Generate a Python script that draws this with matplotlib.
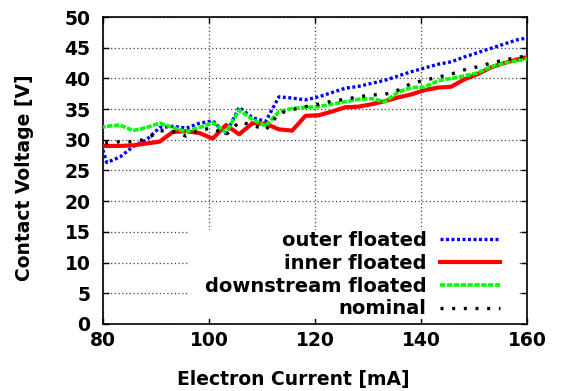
import matplotlib
matplotlib.use('Agg')
import matplotlib.pyplot as plt
from matplotlib.patches import Rectangle
import numpy as np

plt.rcParams['font.family'] = 'DejaVu Sans'
plt.rcParams['font.weight'] = 'bold'
plt.rcParams['axes.labelweight'] = 'bold'
FONTSIZE = 13.5
LEGEND_FONTSIZE = 14

# electron current [mA]; the data run a little past both axis limits
current = [78.2, 80.7, 83.2, 85.7, 88.2, 90.7, 93.2, 95.7, 98.2, 100.7,
           103.2, 105.7, 108.2, 110.7, 113.2, 115.7, 118.2, 120.7, 123.2, 125.7,
           128.2, 130.7, 133.2, 135.7, 138.2, 140.7, 143.2, 145.7, 148.2, 150.7,
           153.2, 155.7, 158.2, 160.7]

# contact voltage [V]
outer_floated = [33.5, 26.3, 27.2, 28.9, 30.0, 32.0, 32.2, 31.9, 32.7, 33.1,
                 31.0, 35.3, 33.6, 33.0, 37.0, 36.8, 36.5, 37.0, 37.7, 38.4,
                 38.7, 39.2, 39.7, 40.4, 41.1, 41.7, 42.3, 42.7, 43.5, 44.2,
                 44.9, 45.6, 46.3, 46.7]
inner_floated = [28.9, 29.0, 29.0, 29.1, 29.4, 29.7, 31.3, 31.4, 31.1, 30.2,
                 32.4, 30.9, 32.7, 32.6, 31.7, 31.5, 33.9, 34.0, 34.6, 35.3,
                 35.4, 35.8, 36.3, 36.9, 37.4, 38.1, 38.5, 38.65, 39.85, 40.7,
                 41.8, 42.5, 43.1, 43.6]
downstream_floated = [31.8, 32.2, 32.4, 31.5, 32.0, 32.7, 32.0, 31.3, 32.0, 32.8,
                      31.2, 34.85, 33.3, 32.25, 34.6, 35.1, 35.3, 35.4, 35.8, 36.2,
                      36.6, 36.7, 36.2, 37.8, 38.5, 38.6, 39.6, 40.0, 40.4, 40.9,
                      41.9, 42.5, 42.9, 43.3]
nominal = [29.4, 29.5, 29.7, 29.7, 30.1, 31.5, 31.3, 30.6, 31.6, 31.9,
           30.8, 32.9, 32.4, 31.6, 34.3, 34.9, 35.4, 35.8, 36.3, 36.6,
           37.0, 37.3, 37.4, 38.1, 39.2, 39.7, 40.2, 40.7, 41.4, 41.9,
           42.5, 43.0, 43.4, 43.8]

fig = plt.figure(figsize=(5.61, 3.91), dpi=100)
ax = fig.add_axes([0.1836, 0.1714, 0.7558, 0.7851])
ax.set_axisbelow(True)

ax.plot(current, outer_floated, color='#0000ff', lw=2.4, ls=(0, (0.9, 0.75)),
        label='outer floated', zorder=3)
ax.plot(current, inner_floated, color='#ff0000', lw=3, ls='-',
        label='inner floated', zorder=3)
ax.plot(current, downstream_floated, color='#00ff00', lw=2.6, ls=(0, (1.5, 0.4)),
        label='downstream floated', zorder=3)
ax.plot(current, nominal, color='black', lw=2.4, ls=(0, (0.9, 2.6)),
        label='nominal', zorder=3)

ax.set_xlim(80, 160)
ax.set_ylim(0, 50)
ax.set_xticks(np.arange(80, 161, 20))
ax.set_yticks(np.arange(0, 51, 5))
ax.tick_params(direction='in', top=True, right=True, labelsize=FONTSIZE,
               length=4, width=1)
ax.tick_params(axis='x', pad=5)
ax.tick_params(axis='y', pad=9)
ax.grid(True, color='#444444', ls=(0, (1, 2)), lw=0.9)
for sp in ax.spines.values():
    sp.set_linewidth(1.2)

# white key area hides the grid behind the legend
ax.add_patch(Rectangle((0.2005, 0.016), 0.778, 0.29, transform=ax.transAxes,
                       facecolor='white', edgecolor='none', zorder=0.8))

ax.set_xlabel('Electron Current [mA]', fontsize=13.5, fontweight='bold')
ax.set_ylabel('Contact Voltage [V]', fontsize=13.5, fontweight='bold')
ax.xaxis.set_label_coords(0.449, -0.15)
ax.yaxis.set_label_coords(-0.163, 0.4756)

leg = ax.legend(loc='lower right', bbox_to_anchor=(0.936, 0.018),
                fontsize=LEGEND_FONTSIZE, markerfirst=False, handlelength=3.1,
                labelspacing=0.2, borderpad=0, borderaxespad=0,
                handletextpad=0.67, frameon=False)
for t in leg.get_texts():
    t.set_ha('right')
leg._legend_box.align = 'right'

fig.savefig('out.png', dpi=100)
